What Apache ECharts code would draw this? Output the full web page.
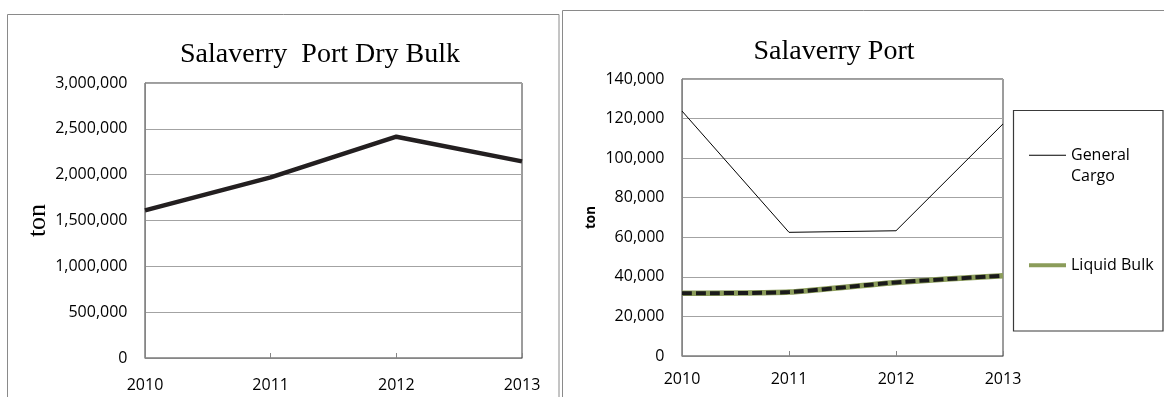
<!DOCTYPE html>
<html>
<head>
<meta charset="utf-8">
<script src="https://cdn.jsdelivr.net/npm/echarts@6/dist/echarts.min.js"></script>
<style>
  html, body { margin: 0; padding: 0; background: #fff; }
  #chart { width: 1164px; height: 397px; }
</style>
</head>
<body>
<div id="chart"></div>
<script>
// Yearly throughput at Salaverry Port, in tons
const years = ['2010', '2011', '2012', '2013'];
const dryBulk = [1610000, 1970000, 2414000, 2145000];
const generalCargo = [123800, 62500, 63300, 117300];
const liquidBulk = [31700, 32300, 37200, 40600];

// Value axis ranges
const dryAxis = { min: 0, max: 3000000, interval: 500000 };
const portAxis = { min: 0, max: 140000, interval: 20000 };

const SANS = '"Open Sans", "Liberation Sans", sans-serif';
const SERIF = '"Liberation Serif", "DejaVu Serif", serif';
const AXIS_GRAY = '#868686';
const GRID_GRAY = '#a3a3a3';
const GREEN = '#8b9c5a';

const thousands = v => String(v).replace(/\B(?=(\d{3})+(?!\d))/g, ',');

function categoryAxis(gridIndex, margin) {
  return {
    type: 'category', gridIndex, data: years, boundaryGap: false,
    axisLine: { lineStyle: { color: AXIS_GRAY, width: 1 } },
    axisTick: { show: true, inside: true, length: 5, lineStyle: { color: AXIS_GRAY } },
    axisLabel: { margin, fontFamily: SANS, fontSize: 16, color: '#000' },
    splitLine: { show: false }
  };
}

function valueAxis(gridIndex, range, name, nameStyle, nameGap) {
  return {
    type: 'value', gridIndex, min: range.min, max: range.max, interval: range.interval,
    name, nameLocation: 'middle', nameRotate: 90, nameGap, nameTextStyle: nameStyle,
    axisLine: { show: true, lineStyle: { color: AXIS_GRAY, width: 1 } },
    axisTick: { show: false },
    axisLabel: { margin: 17.5, fontFamily: SANS, fontSize: 16, color: '#000', formatter: thousands },
    splitLine: { lineStyle: { color: GRID_GRAY, width: 1 } }
  };
}

const chart = echarts.init(document.getElementById('chart'), null, { renderer: 'canvas' });

chart.setOption({
  animation: false,
  backgroundColor: '#fff',
  title: [
    { text: 'Salaverry  Port Dry Bulk', left: 320, top: 41, padding: 0, textAlign: 'center',
      textStyle: { fontFamily: SERIF, fontSize: 28, fontWeight: 'normal', color: '#000' } },
    { text: 'Salaverry Port', left: 834, top: 38, padding: 0, textAlign: 'center',
      textStyle: { fontFamily: SERIF, fontSize: 28, fontWeight: 'normal', color: '#000' } }
  ],
  graphic: [
    // panel frames
    { type: 'rect', shape: { x: 7.5, y: 14.5, width: 551.5, height: 420 },
      style: { fill: null, stroke: '#8a8a8a', lineWidth: 1 }, silent: true },
    { type: 'rect', shape: { x: 562.5, y: 10.5, width: 640, height: 420 },
      style: { fill: null, stroke: '#8a8a8a', lineWidth: 1 }, silent: true },
    // legend frame
    { type: 'rect', shape: { x: 1013.5, y: 110.5, width: 149.5, height: 220.5 },
      style: { fill: null, stroke: '#3a3a3a', lineWidth: 1.2 }, silent: true }
  ],
  grid: [
    { left: 145, top: 83, width: 377, height: 275, show: true, borderColor: '#3a3a3a', borderWidth: 1, backgroundColor: 'transparent' },
    { left: 682, top: 79, width: 321, height: 277, show: true, borderColor: '#3a3a3a', borderWidth: 1, backgroundColor: 'transparent' }
  ],
  xAxis: [categoryAxis(0, 19), categoryAxis(1, 15.5)],
  yAxis: [
    valueAxis(0, dryAxis, 'ton', { fontFamily: SERIF, fontSize: 26, color: '#000' }, 94),
    valueAxis(1, portAxis, 'ton', { fontFamily: SANS, fontSize: 13.5, fontWeight: 'bold', color: '#000' }, 84)
  ],
  legend: [
    // leading blank line keeps "General" level with the swatch and "Cargo" below it
    { data: ['General Cargo'], left: 1029, top: 123, padding: 0, icon: 'rect',
      itemWidth: 37, itemHeight: 1.2, selectedMode: false, formatter: '\nGeneral\nCargo',
      textStyle: { fontFamily: SANS, fontSize: 16, lineHeight: 21.5, color: '#000' } },
    { data: ['Liquid Bulk'], left: 1029, top: 254.5, padding: 0, icon: 'rect',
      itemWidth: 37, itemHeight: 4, selectedMode: false,
      textStyle: { fontFamily: SANS, fontSize: 16, lineHeight: 21.5, color: '#000' } }
  ],
  series: [
    { name: 'Dry Bulk', type: 'line', xAxisIndex: 0, yAxisIndex: 0, data: dryBulk,
      showSymbol: false, color: '#231f20',
      lineStyle: { color: '#231f20', width: 4.5 } },
    { name: 'General Cargo', type: 'line', xAxisIndex: 1, yAxisIndex: 1, data: generalCargo,
      showSymbol: false, color: '#000',
      lineStyle: { color: '#000', width: 1 } },
    { name: 'Liquid Bulk', type: 'line', xAxisIndex: 1, yAxisIndex: 1, data: liquidBulk,
      showSymbol: false, smooth: 0.2, color: GREEN,
      lineStyle: { color: GREEN, width: 5.5 } },
    { name: 'Liquid Bulk trend', type: 'line', xAxisIndex: 1, yAxisIndex: 1, data: liquidBulk,
      showSymbol: false, smooth: 0.2, color: '#1a1a1a',
      lineStyle: { color: '#1a1a1a', width: 4, type: [10, 4] } }
  ]
});
</script>
</body>
</html>
